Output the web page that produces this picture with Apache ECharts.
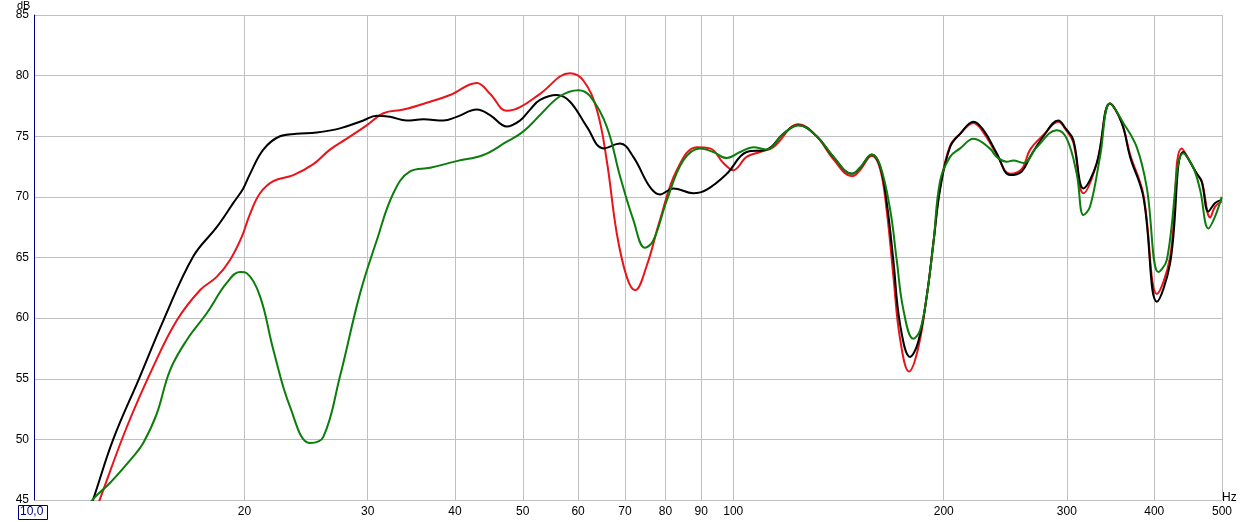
<!DOCTYPE html>
<html><head><meta charset="utf-8">
<script src="https://cdn.jsdelivr.net/npm/echarts@6/dist/echarts.min.js"></script>
<style>html,body{margin:0;padding:0;background:#fff}#c{width:1246px;height:522px}</style>
</head><body><div id="c"></div>
<script>
const xTicks = [20,30,40,50,60,70,80,90,100,200,300,400,500];
const yMin = 45, yMax = 85, yStep = 5;

const blackHz = [11.8,12.16,12.98,14.18,15.31,16.9,18.25,19.28,19.92,20.37,21.28,22.48,23.75,25.37,27.39,29.58,30.91,32.3,34.12,36.05,38.5,40.22,42.98,44.89,47.44,49.56,51.22,52.93,55.92,58.42,61.73,65.2,68.88,71.96,76.03,78.57,82.09,87.68,91.65,97.88,104.5,111.7,117.9,123.9,131.6,139.1,147.8,151.8,157.8,162.2,165.8,169.4,173.2,179.0,183.8,189.1,193.3,197.6,204.2,211.1,220.6,228.0,238.1,248.9,258.6,265.8,277.7,291.7,299.2,306.4,316.8,331.1,345.8,359.4,369.4,385.9,403.5,421.4,440.2,460.3,467.7,478.1,488.8,499.5];
const blackDb = [43.0,45.1,50.0,55.2,59.8,65.1,67.5,69.5,70.7,71.9,73.9,75.0,75.2,75.3,75.65,76.3,76.7,76.6,76.3,76.4,76.3,76.6,77.2,76.75,75.8,76.3,77.2,78.0,78.4,77.85,75.8,74.0,74.4,73.3,70.8,70.2,70.7,70.3,70.6,71.9,73.7,73.9,75.2,75.9,75.0,73.3,71.9,72.4,73.5,72.5,69.5,64.8,59.5,56.8,58.0,61.8,66.2,70.6,74.1,75.2,76.2,75.5,73.6,71.8,72.1,73.3,75.0,76.3,75.6,74.7,70.7,72.8,77.7,76.1,73.3,70.0,61.35,64.5,73.7,71.9,71.25,68.8,69.5,69.75];

const redHz = [12.1,12.43,13.57,14.81,16.0,17.27,18.25,19.07,19.82,20.37,21.05,21.99,23.49,25.09,26.5,28.01,29.91,31.6,33.75,36.86,39.36,42.98,44.89,47.44,49.56,52.93,58.42,61.04,63.8,65.93,68.14,70.42,72.37,75.18,78.57,83.02,88.67,92.64,96.79,100.0,104.5,109.2,114.1,123.9,131.6,139.1,147.8,151.8,157.8,162.2,165.8,169.4,173.2,178.4,183.8,189.1,193.3,197.6,204.2,211.1,220.6,228.0,238.1,248.9,258.6,265.8,277.7,291.7,299.2,306.4,316.8,331.1,345.8,359.4,369.4,385.9,403.5,421.4,437.9,460.3,467.7,480.9,488.8,499.5];
const redDb = [43.3,45.1,51.0,56.0,59.8,62.3,63.4,64.8,66.7,68.6,70.3,71.3,71.8,72.7,73.9,74.8,75.9,76.9,77.2,77.85,78.4,79.4,78.5,77.1,77.4,78.5,80.2,79.6,77.2,73.0,67.0,63.4,62.3,64.3,68.1,72.2,74.1,74.0,72.8,72.2,73.3,73.7,74.1,76.0,75.0,73.1,71.7,72.2,73.4,72.3,68.8,63.5,58.3,55.6,57.5,61.8,66.2,70.8,74.2,75.2,76.1,75.3,73.5,71.9,72.3,73.9,75.1,76.2,75.5,74.5,70.3,72.8,77.7,76.1,73.5,70.2,62.0,65.0,74.0,71.9,71.3,68.3,69.2,69.6];

const greenHz = [11.8,12.16,12.84,13.87,14.33,14.98,15.65,16.54,17.66,18.86,19.71,20.15,21.05,21.99,23.23,24.81,25.93,27.39,29.25,30.91,32.65,34.5,36.86,40.22,43.91,47.44,49.56,51.22,52.93,56.53,60.05,62.41,65.93,68.88,71.96,74.77,76.85,80.35,84.82,89.65,93.65,97.88,102.3,106.8,111.7,117.9,123.9,131.6,139.1,147.8,151.8,157.8,162.2,167.7,171.3,175.1,180.9,185.0,189.1,193.3,197.6,204.2,211.1,220.6,232.7,238.1,246.1,251.5,260.0,271.7,290.2,299.9,309.9,316.8,323.8,334.6,345.8,361.3,377.6,390.2,405.5,416.9,440.2,454.9,465.1,478.1,488.8,499.5];
const greenDb = [44.0,45.1,46.4,48.6,49.7,52.1,55.7,58.2,60.4,62.9,63.8,63.7,61.8,57.4,52.7,49.7,50.2,55.2,62.0,66.4,70.3,72.1,72.4,72.95,73.45,74.55,75.2,75.9,76.75,78.3,78.8,78.3,75.8,71.7,68.1,65.8,66.4,69.7,73.0,74.0,73.7,73.2,73.7,74.1,73.9,75.2,75.9,75.0,73.3,71.9,72.4,73.5,72.6,68.9,64.8,60.7,58.3,59.0,61.8,66.2,71.3,73.3,74.0,74.8,74.0,73.3,72.9,73.0,72.8,74.1,75.5,74.8,71.9,68.5,69.2,73.3,77.7,76.1,74.1,70.8,63.8,64.8,73.6,72.4,70.6,67.4,68.4,70.0];

function pairs(hz, db){ return hz.map((h,i)=>[h, db[i]]); }

const chart = echarts.init(document.getElementById('c'), null, {renderer:'canvas'});
const font = 'Liberation Sans, Arial, sans-serif';
function line(name, hz, db, color){
  return {name, type:'line', data:pairs(hz,db), showSymbol:false, symbol:'none',
    smooth:0.4, clip:true, lineStyle:{color, width:2}, itemStyle:{color}, silent:true, animation:false};
}
chart.setOption({
  animation:false,
  backgroundColor:'#ffffff',
  grid:{left:34, right:24, top:15, bottom:22, containLabel:false},
  xAxis:{type:'log', logBase:10, min:10, max:500,
    axisLine:{show:false},
    axisTick:{show:false, customValues:xTicks},
    axisLabel:{customValues:xTicks, color:'#000', fontSize:12, fontFamily:font, margin:6},
    splitLine:{show:true, lineStyle:{color:'#c0c0c0', width:1}},
    minorSplitLine:{show:false}
  },
  yAxis:{type:'value', min:yMin, max:yMax, interval:yStep,
    axisLine:{show:true, lineStyle:{color:'#00007f', width:1}},
    axisTick:{show:false},
    axisLabel:{color:'#000', fontSize:12, fontFamily:font, margin:5, padding:[3,0,0,0]},
    splitLine:{show:true, lineStyle:{color:'#c0c0c0', width:1}}
  },
  graphic:[
    {type:'text', left:17, top:0, style:{text:'dB', fill:'#000', font:'11px '+font}},
    {type:'text', left:1222, top:492, style:{text:'Hz', fill:'#000', font:'12px '+font}},
    {type:'rect', shape:{x:18.5, y:505.5, width:29, height:14}, style:{fill:'#fff', stroke:'#00007f', lineWidth:1}},
    {type:'text', left:20, top:506, style:{text:'10,0', fill:'#00007f', font:'12px '+font}}
  ],
  series:[
    line('red', redHz, redDb, '#e8141a'),
    line('black', blackHz, blackDb, '#000000'),
    line('green', greenHz, greenDb, '#0b7d0b')
  ]
});
</script></body></html>
